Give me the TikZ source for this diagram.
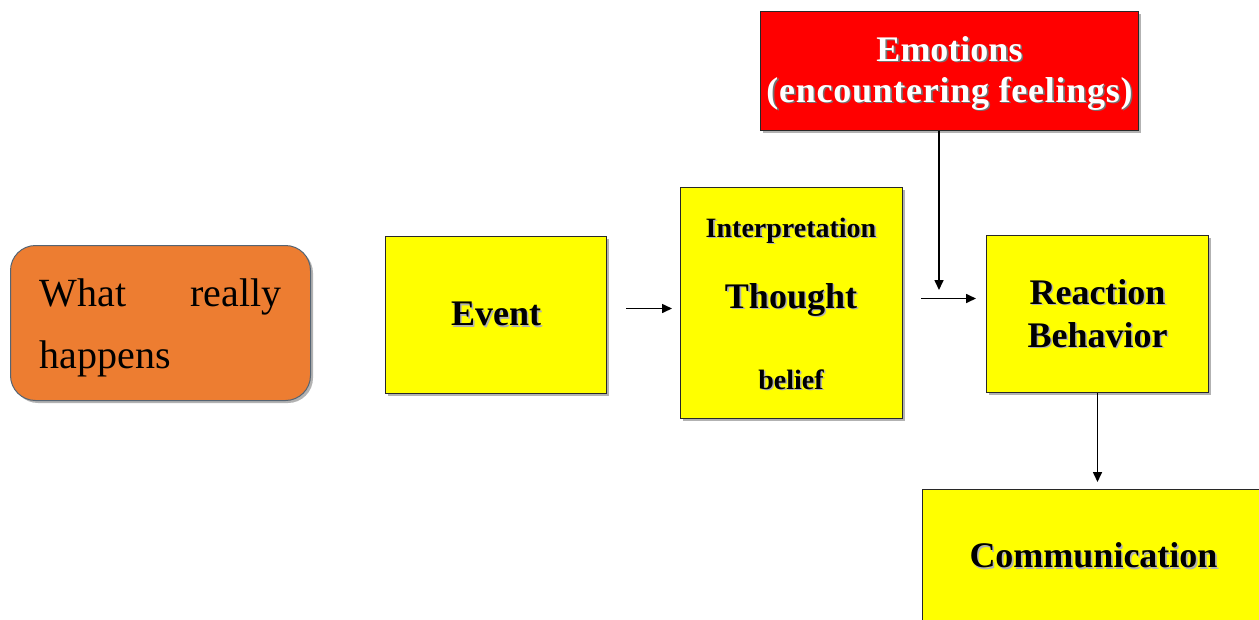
\documentclass[tikz,border=0pt]{standalone}
\usepackage{fontspec}
\setmainfont{Liberation Serif}
\usetikzlibrary{arrows.meta,shadows}
\definecolor{orng}{RGB}{237,125,49}
\definecolor{orngline}{RGB}{85,100,115}
\definecolor{boxline}{RGB}{40,40,40}
\definecolor{ylw}{RGB}{255,255,0}
\newcommand\shd[2][black!30]{\leavevmode\rlap{\kern1.6pt\raisebox{-1.6pt}{\textcolor{#1}{#2}}}#2}
\begin{document}
\begin{tikzpicture}[x=1pt,y=-1pt,
  box/.style={draw=boxline, line width=1pt, anchor=north west, inner sep=0pt, align=center,
    font=\bfseries\fontsize{36}{43}\selectfont,
    drop shadow={shadow xshift=2.5pt,shadow yshift=-2.5pt,opacity=0.3,fill=black}},
  ybox/.style={box, fill=ylw},
  lbl/.style={anchor=base, inner sep=0pt},
  arr/.style={-{Triangle[length=10pt,width=9pt]}, line width=1.6pt, draw=black}]
\useasboundingbox (0,0) rectangle (1259,619);
\clip (0,0) rectangle (1259,619);

\node[box, fill=orng, draw=orngline, rounded corners=25pt, minimum width=300pt, minimum height=155pt,
  font=\fontsize{40}{62}\selectfont, align=left] (what) at (10,245)
  {\hbox to 242pt{\rule{0pt}{37pt}What\hfill really}\\happens};

\node[ybox, minimum width=221pt, minimum height=157pt] (event) at (385,236) {\shd{Event}};

\node[ybox, minimum width=222pt, minimum height=231pt] (thought) at (680,187) {};
\node[lbl, font=\bfseries\fontsize{28}{28}\selectfont] (interp) at (791,237) {\shd{Interpretation}};
\node[lbl, font=\bfseries\fontsize{36}{36}\selectfont] (thoughtlbl) at (791,308) {\shd{Thought}};
\node[lbl, font=\bfseries\fontsize{28}{28}\selectfont] (belief) at (791,389) {\shd{belief}};

\node[box, fill=red, text=white, minimum width=378pt, minimum height=119pt,
  font=\bfseries\fontsize{36}{41}\selectfont] (emo) at (760,11)
  {\rule{0pt}{31pt}\shd[black!55]{Emotions}\\\shd[black!55]{\addfontfeature{LetterSpace=2}(encountering feelings)}};

\node[ybox, minimum width=222pt, minimum height=157pt] (react) at (986,235) {\shd{Reaction}\\\shd{Behavior}};

\node[ybox, minimum width=342pt, minimum height=134pt] (comm) at (922,489) {\shd{Communication}};

\draw[arr, shorten <=19pt, shorten >=8pt] ([yshift=6.5pt]event.east) -- ([yshift=-5.5pt]thought.west);
\draw[arr, shorten <=18pt, shorten >=10pt] ([yshift=4.5pt]thought.east) -- ([yshift=15.5pt]react.west);
\coordinate (emoend) at (939,290);
\draw[arr] (emo.south -| emoend) -- (emoend);
\draw[arr, shorten >=7pt] (react.south) -- (react.south |- comm.north);
\end{tikzpicture}
\end{document}
